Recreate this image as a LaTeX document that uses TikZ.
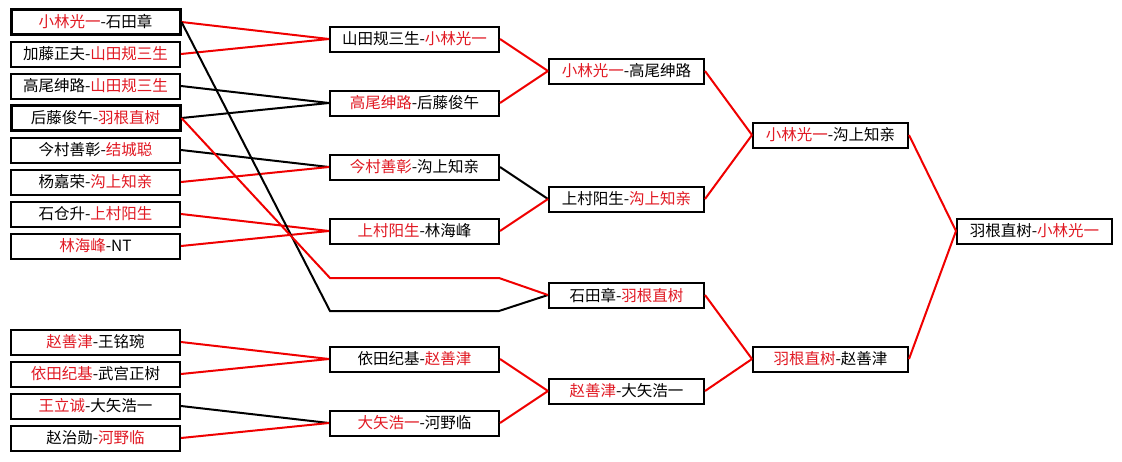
\documentclass[tikz,border=0pt]{standalone}
\usepackage{fontspec}
\setmainfont{Noto Sans CJK SC}
\usetikzlibrary{positioning}
\definecolor{winred}{RGB}{225,25,35}
\definecolor{linered}{RGB}{240,0,0}
\newcommand{\win}[1]{\textcolor{winred}{#1}}
\begin{document}
\begin{tikzpicture}[
  x=1pt,y=-1pt,
  font=\fontsize{15.5pt}{18pt}\selectfont,
  box/.style={draw,line width=2pt,fill=white,inner sep=0pt,minimum height=25pt,minimum width=169pt},
  seed/.style={box,line width=3pt},
  narrow/.style={box,minimum width=155pt},
  rl/.style={draw=linered,line width=2pt},
  bl/.style={draw=black,line width=2pt}
]
\fill[white] (0,0) rectangle (1122,461);
\useasboundingbox (0,0) rectangle (1122,461);

% first round, upper half
\node[seed] (p1) at (95.5,22)  {\win{小林光一}-石田章};
\node[box]  (p2) at (95.5,54)  {加藤正夫-\win{山田规三生}};
\node[box]  (p3) at (95.5,86)  {高尾绅路-\win{山田规三生}};
\node[seed] (p4) at (95.5,118) {后藤俊午-\win{羽根直树}};
\node[box]  (p5) at (95.5,150) {今村善彰-\win{结城聪}};
\node[box]  (p6) at (95.5,182) {杨嘉荣-\win{沟上知亲}};
\node[box]  (p7) at (95.5,214) {石仓升-\win{上村阳生}};
\node[box]  (p8) at (95.5,246) {\win{林海峰}-NT};
% first round, lower half
\node[box]  (p9)  at (95.5,342) {\win{赵善津}-王铭琬};
\node[box]  (p10) at (95.5,374) {\win{依田纪基}-武宫正树};
\node[box]  (p11) at (95.5,406) {\win{王立诚}-大矢浩一};
\node[box]  (p12) at (95.5,438) {赵治勋-\win{河野临}};

% second round
\node[box] (q1) at (414.5,39)  {山田规三生-\win{小林光一}};
\node[box] (q2) at (414.5,103) {\win{高尾绅路}-后藤俊午};
\node[box] (q3) at (414.5,167) {\win{今村善彰}-沟上知亲};
\node[box] (q4) at (414.5,231) {\win{上村阳生}-林海峰};
\node[box] (q5) at (414.5,359) {依田纪基-\win{赵善津}};
\node[box] (q6) at (414.5,423) {\win{大矢浩一}-河野临};

% third round
\node[narrow] (s1) at (626.5,71)  {\win{小林光一}-高尾绅路};
\node[narrow] (s2) at (626.5,199) {上村阳生-\win{沟上知亲}};
\node[narrow] (s3) at (626.5,295) {石田章-\win{羽根直树}};
\node[narrow] (s4) at (626.5,391) {\win{赵善津}-大矢浩一};

% semi-finals and final
\node[narrow] (t1) at (830.5,135) {\win{小林光一}-沟上知亲};
\node[narrow] (t2) at (830.5,359) {\win{羽根直树}-赵善津};
\node[narrow] (fin) at (1034.5,231) {羽根直树-\win{小林光一}};

% bends of the two long routes
\coordinate (k1) at (330,311);
\coordinate (k2) at (499,311);
\coordinate (k3) at (330,278);
\coordinate (k4) at (499,278);

\draw[rl] (p1.east) -- (q1.west);
\draw[rl] (p2.east) -- (q1.west);
\draw[bl] (p3.east) -- (q2.west);
\draw[bl] (p4.east) -- (q2.west);
\draw[bl] (p5.east) -- (q3.west);
\draw[rl] (p6.east) -- (q3.west);
\draw[rl] (p7.east) -- (q4.west);
\draw[rl] (p8.east) -- (q4.west);
\draw[rl] (p9.east) -- (q5.west);
\draw[rl] (p10.east) -- (q5.west);
\draw[bl] (p11.east) -- (q6.west);
\draw[rl] (p12.east) -- (q6.west);
\draw[bl] (p1.east) -- (k1) -- (k2) -- (s3.west);
\draw[rl] (p4.east) -- (k3) -- (k4) -- (s3.west);

\draw[rl] (q1.east) -- (s1.west);
\draw[rl] (q2.east) -- (s1.west);
\draw[bl] (q3.east) -- (s2.west);
\draw[rl] (q4.east) -- (s2.west);
\draw[rl] (q5.east) -- (s4.west);
\draw[rl] (q6.east) -- (s4.west);

\draw[rl] (s1.east) -- (t1.west);
\draw[rl] (s2.east) -- (t1.west);
\draw[rl] (s3.east) -- (t2.west);
\draw[rl] (s4.east) -- (t2.west);

\draw[rl] (t1.east) -- (fin.west);
\draw[rl] (t2.east) -- (fin.west);
\end{tikzpicture}
\end{document}
